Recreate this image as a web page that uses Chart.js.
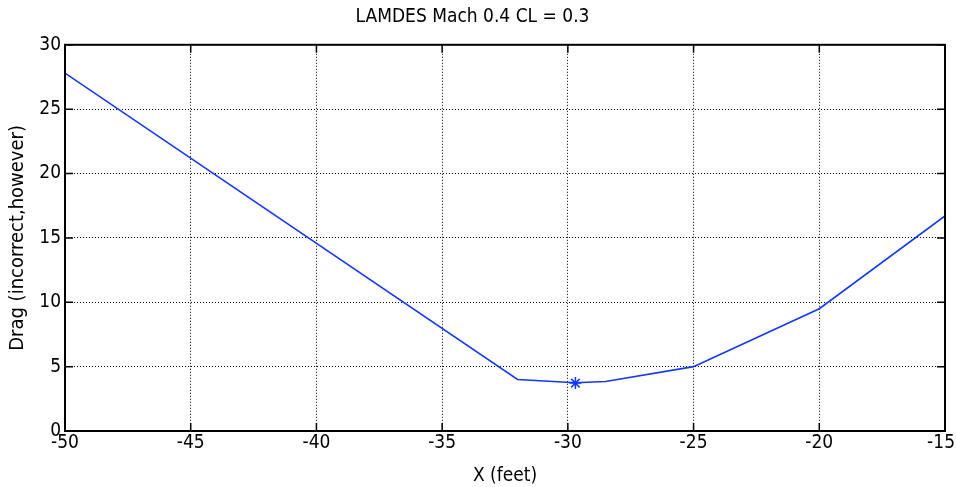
<!DOCTYPE html>
<html>
<head>
<meta charset="utf-8">
<script src="https://cdn.jsdelivr.net/npm/chart.js@4/dist/chart.umd.min.js"></script>
<style>
  html, body { margin: 0; padding: 0; background: #fff; }
  #wrap { width: 956px; height: 487px; position: relative; }
</style>
</head>
<body>
<div id="wrap"><canvas id="c"></canvas></div>
<script>
// data
const xVals = [-50, -32, -29.7, -28.5, -25, -20, -15];
const dragVals = [27.8, 4.0, 3.75, 3.85, 5.0, 9.5, 16.7];
const optX = [-29.7];
const optDrag = [3.72];
const xTicks = [-50, -45, -40, -35, -30, -25, -20, -15];
const yTicks = [0, 5, 10, 15, 20, 25, 30];

const FONT = "'Liberation Sans Narrow', 'DejaVu Sans Condensed', 'Liberation Sans', sans-serif";
const BLUE = '#1437ff';

// matlab style box + inward ticks, x labels kept inside the canvas
const boxPlugin = {
  id: 'box',
  afterDraw(chart) {
    const { ctx, chartArea: a, scales, width } = chart;
    ctx.save();
    ctx.strokeStyle = '#000';
    ctx.lineWidth = 2;
    ctx.strokeRect(a.left, a.top, a.right - a.left, a.bottom - a.top);
    ctx.lineWidth = 1.5;
    ctx.beginPath();
    xTicks.forEach(v => {
      const px = scales.x.getPixelForValue(v);
      ctx.moveTo(px, a.bottom); ctx.lineTo(px, a.bottom - 8);
      ctx.moveTo(px, a.top); ctx.lineTo(px, a.top + 8);
    });
    yTicks.forEach(v => {
      const py = scales.y.getPixelForValue(v);
      ctx.moveTo(a.left, py); ctx.lineTo(a.left + 8, py);
      ctx.moveTo(a.right, py); ctx.lineTo(a.right - 8, py);
    });
    ctx.stroke();

    ctx.fillStyle = '#000';
    ctx.font = '19px ' + FONT;
    ctx.textBaseline = 'top';
    ctx.textAlign = 'left';
    xTicks.forEach(v => {
      const txt = String(v);
      const w = ctx.measureText(txt).width;
      let x0 = scales.x.getPixelForValue(v) - w / 2;
      if (x0 + w > width - 1) x0 = width - 1 - w;
      ctx.fillText(txt, x0, a.bottom + 3);
    });
    ctx.restore();
  }
};

new Chart(document.getElementById('c'), {
  type: 'line',
  data: {
    datasets: [
      {
        data: xVals.map((x, i) => ({ x: x, y: dragVals[i] })),
        borderColor: BLUE,
        borderWidth: 1.6,
        pointRadius: 0,
        tension: 0
      },
      {
        data: optX.map((x, i) => ({ x: x, y: optDrag[i] })),
        showLine: false,
        pointStyle: 'star',
        pointRadius: 6,
        borderColor: BLUE,
        borderWidth: 1.5,
        backgroundColor: BLUE
      }
    ]
  },
  options: {
    responsive: true,
    maintainAspectRatio: false,
    animation: false,
    layout: { padding: { top: 0, right: 11, bottom: 0, left: 0 } },
    plugins: {
      legend: { display: false },
      tooltip: { enabled: false },
      title: {
        display: true,
        text: 'LAMDES Mach 0.4 CL = 0.3',
        color: '#000',
        font: { family: FONT, size: 19, weight: 'normal' },
        padding: { top: 6, bottom: 16 }
      }
    },
    scales: {
      x: {
        type: 'linear',
        min: -50,
        max: -15,
        afterBuildTicks: s => { s.ticks = xTicks.map(v => ({ value: v })); },
        afterFit: s => { s.height = 56; s.paddingLeft = 0; s.paddingRight = 0; },
        ticks: { color: 'rgba(0,0,0,0)', font: { family: FONT, size: 19 }, padding: 2, maxRotation: 0 },
        grid: { color: '#000', lineWidth: 1, drawTicks: false },
        border: { display: false, dash: [1, 2] },
        title: {
          display: true,
          text: 'X (feet)',
          color: '#000',
          font: { family: FONT, size: 19 },
          padding: { top: 3, bottom: 0 }
        }
      },
      y: {
        min: 0,
        max: 30,
        afterBuildTicks: s => { s.ticks = yTicks.map(v => ({ value: v })); },
        afterFit: s => { s.width = 65; s.paddingTop = 0; s.paddingBottom = 0; },
        ticks: { color: '#000', font: { family: FONT, size: 19 }, padding: 4 },
        grid: { color: '#000', lineWidth: 1, drawTicks: false },
        border: { display: false, dash: [1, 2] },
        title: {
          display: true,
          text: 'Drag (incorrect,however)',
          color: '#000',
          font: { family: FONT, size: 20 },
          padding: { top: 6, bottom: 4 }
        }
      }
    }
  },
  plugins: [boxPlugin]
});
</script>
</body>
</html>
